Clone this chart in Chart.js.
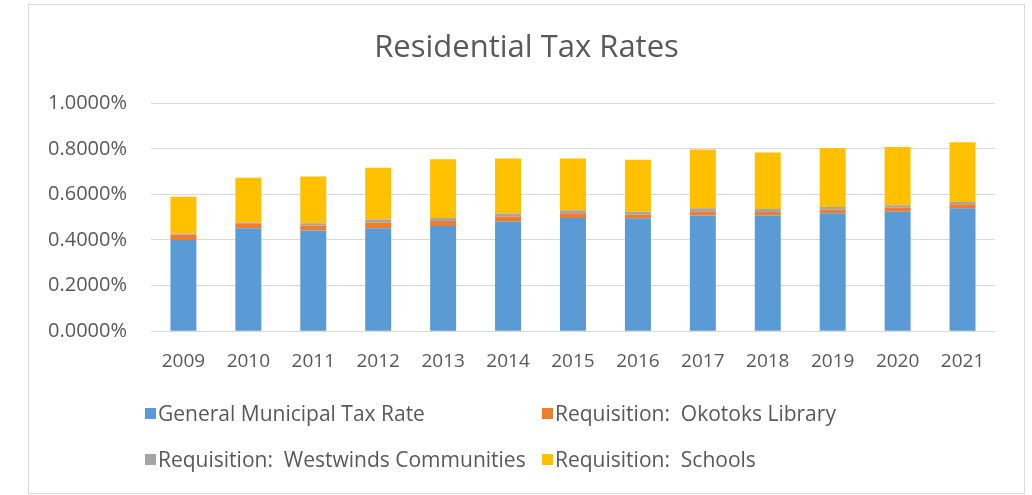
<!DOCTYPE html>
<html>
<head>
<meta charset="utf-8">
<script src="https://cdn.jsdelivr.net/npm/chart.js@4"></script>
<style>
    html, body { margin: 0; padding: 0; background: #fff; }
    #marco {
        position: absolute; left: 28px; top: 4px; width: 997px; height: 490px;
        border: 1px solid #d9d9d9; box-sizing: border-box;
    }
    #lienzo { position: absolute; left: 0; top: 0; }
    #leyenda {
        position: absolute; left: 145px; top: 401px;
        display: grid; grid-template-columns: 397px auto; row-gap: 22px;
        font-family: "Open Sans", Lato, sans-serif; font-size: 21px; color: #595959;
    }
    .item { display: flex; align-items: center; white-space: pre; height: 24px; }
    .caja { flex: none; width: 11px; height: 11px; margin-right: 2px; }
</style>
</head>
<body>
<div id="marco"></div>
<canvas id="lienzo" width="1032" height="495"></canvas>
<div id="leyenda"></div>
<script>
//////////////////////////////////////////////////////////////////////////////////////
/// DATOS DEL GRAFICO ////////////////////////////////////////////////////////////////
//////////////////////////////////////////////////////////////////////////////////////
const anios = ["2009", "2010", "2011", "2012", "2013", "2014", "2015", "2016", "2017", "2018", "2019", "2020", "2021"];
const tasaMunicipal = [0.400, 0.451, 0.442, 0.452, 0.461, 0.481, 0.496, 0.495, 0.508, 0.507, 0.517, 0.524, 0.539];
const reqBiblioteca = [0.024, 0.022, 0.022, 0.025, 0.022, 0.022, 0.021, 0.017, 0.018, 0.016, 0.016, 0.017, 0.018];
const reqWestwinds = [0.004, 0.004, 0.009, 0.013, 0.013, 0.013, 0.013, 0.012, 0.013, 0.013, 0.012, 0.011, 0.010];
const reqEscuelas = [0.162, 0.196, 0.206, 0.227, 0.258, 0.241, 0.228, 0.228, 0.258, 0.248, 0.258, 0.256, 0.262];
const ticksEjeY = [0, 0.2, 0.4, 0.6, 0.8, 1.0];
const nombresSeries = [
    "General Municipal Tax Rate",
    "Requisition:  Okotoks Library",
    "Requisition:  Westwinds Communities",
    "Requisition:  Schools"
];
const coloresSeries = ["#5b9bd5", "#ed7d31", "#a5a5a5", "#ffc000"];

//////////////////////////////////////////////////////////////////////////////////////
/// DIBUJAR GRAFICO //////////////////////////////////////////////////////////////////
//////////////////////////////////////////////////////////////////////////////////////
// el titulo va centrado sobre el marco completo, no sobre el area de layout
const centrarTitulo = {
    id: "centrarTitulo",
    afterLayout(chart) {
        const marco = document.getElementById("marco");
        if (!chart.titleBlock) return;
        chart.titleBlock.left = marco.offsetLeft;
        chart.titleBlock.right = marco.offsetLeft + marco.offsetWidth;
    }
};

function MostrarGrafico() {
    const valores = [tasaMunicipal, reqBiblioteca, reqWestwinds, reqEscuelas];
    const fuente = "'Open Sans', Lato, sans-serif";

    const grafico = new Chart(document.getElementById("lienzo").getContext("2d"), {
        type: "bar",
        data: {
            labels: anios,
            datasets: valores.map((v, i) => ({
                label: nombresSeries[i],
                data: v,
                backgroundColor: coloresSeries[i],
                borderWidth: 0,
                barPercentage: 0.4,
                categoryPercentage: 1
            }))
        },
        options: {
            responsive: false,
            animation: false,
            layout: { padding: { left: 24, right: 37, top: 30, bottom: 111 } },
            plugins: {
                legend: { display: false },
                tooltip: { enabled: false },
                title: {
                    display: true,
                    text: "Residential Tax Rates",
                    color: "#595959",
                    font: { family: fuente, size: 31, weight: "normal" },
                    padding: { top: 0, bottom: 36 }
                }
            },
            scales: {
                x: {
                    stacked: true,
                    grid: { display: false },
                    border: { display: false },
                    ticks: { color: "#595959", font: { family: fuente, size: 19 }, padding: 11 }
                },
                y: {
                    stacked: true,
                    min: ticksEjeY[0],
                    max: ticksEjeY[ticksEjeY.length - 1],
                    afterBuildTicks: eje => { eje.ticks = ticksEjeY.map(v => ({ value: v })); },
                    grid: { color: "#d9d9d9", lineWidth: 1, drawTicks: false },
                    border: { display: false },
                    ticks: {
                        color: "#595959",
                        font: { family: fuente, size: 20 },
                        padding: 24,
                        callback: v => v.toFixed(4) + "%"
                    }
                }
            }
        },
        plugins: [centrarTitulo]
    });

    // leyenda en html, dos columnas como en el original
    const leyenda = document.getElementById("leyenda");
    grafico.data.datasets.forEach(ds => {
        leyenda.insertAdjacentHTML("beforeend", `
            <div class="item"><span class="caja" style="background:${ds.backgroundColor}"></span>${ds.label}</div>
        `);
    });
}

//////////////////////////////////////////////////////////////////////////////////////
/// INICIALIZAR //////////////////////////////////////////////////////////////////////
//////////////////////////////////////////////////////////////////////////////////////
MostrarGrafico();
</script>
</body>
</html>
